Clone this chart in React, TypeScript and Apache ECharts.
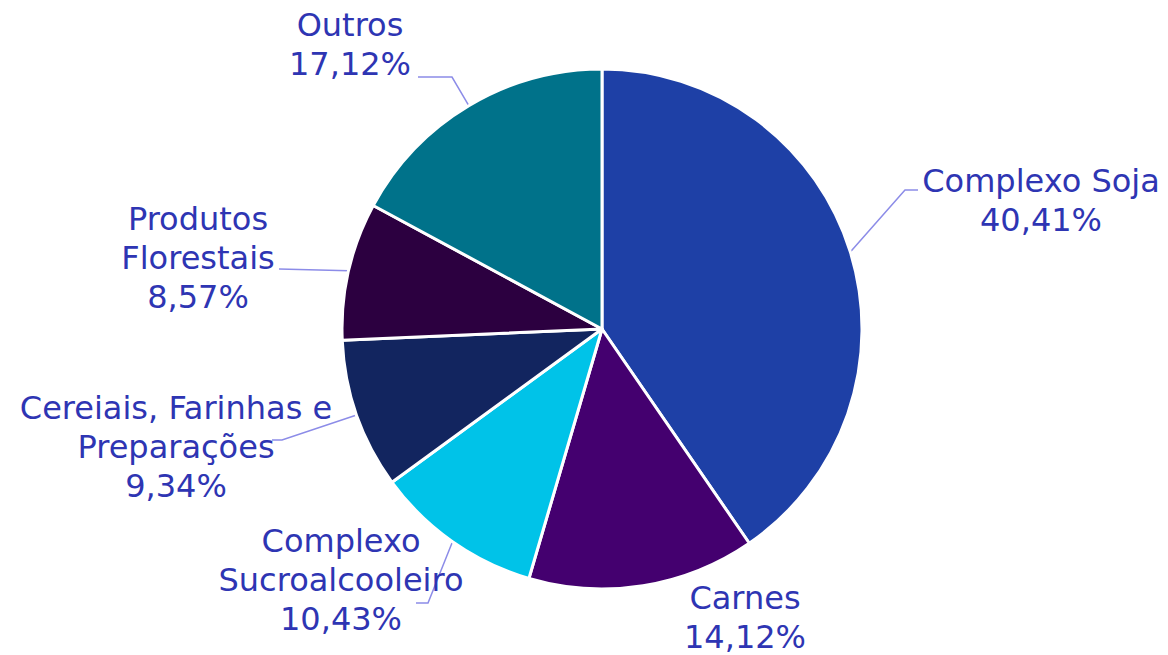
import React, { useEffect, useRef } from "react";
import * as echarts from "echarts";

const categories = [
  "Complexo Soja",
  "Carnes",
  "Complexo\nSucroalcooleiro",
  "Cereiais, Farinhas e\nPreparações",
  "Produtos\nFlorestais",
  "Outros",
];
const shares = [40.41, 14.12, 10.43, 9.34, 8.57, 17.12];
const shareLabels = ["40,41%", "14,12%", "10,43%", "9,34%", "8,57%", "17,12%"];
const colors = ["#1E40A6", "#44006F", "#00C3E8", "#12255F", "#2C0040", "#00728A"];

// label block centres and leader-line elbow/end points (layout only)
const labelCenters: [number, number][] = [
  [1041, 200],
  [745, 617],
  [341, 580],
  [176, 447],
  [198, 258],
  [350, 44],
];
const leaderGuides: ([number, number, number] | null)[] = [
  [905, 190, 918],
  null,
  [428, 603, 416],
  [282, 440, 272],
  [279, 269, 279],
  [452, 77, 418],
];

export default function App() {
  const ref = useRef<HTMLDivElement>(null);
  useEffect(() => {
    if (!ref.current) return;
    const chart = echarts.init(ref.current, null, { renderer: "svg" });
    const data = categories.map((name, i) => ({
      name,
      value: shares[i],
      itemStyle: { color: colors[i] },
      labelLine: { show: leaderGuides[i] !== null },
    }));
    chart.setOption({
      animation: false,
      backgroundColor: "#ffffff",
      series: [
        {
          type: "pie",
          center: [602, 329],
          radius: 260,
          startAngle: 90,
          clockwise: true,
          data,
          itemStyle: { borderColor: "#ffffff", borderWidth: 3 },
          label: {
            show: true,
            position: "outside",
            formatter: (p: any) => `${p.name}\n${shareLabels[p.dataIndex]}`,
            fontFamily: "DejaVu Sans, Verdana, sans-serif",
            fontSize: 32,
            lineHeight: 39,
            color: "#2E35B3",
            align: "center",
            overflow: "none",
            width: 400,
          },
          labelLine: {
            show: true,
            lineStyle: { color: "#8C8CE8", width: 1.5 },
          },
          labelLayout: (params: any) => {
            const i = params.dataIndex;
            const c = labelCenters[i];
            const g = leaderGuides[i];
            const out: any = {
              x: c[0],
              y: c[1],
              align: "center",
              verticalAlign: "middle",
            };
            if (g && params.labelLinePoints && params.labelLinePoints[0]) {
              const s = params.labelLinePoints[0];
              out.labelLinePoints = [
                [s[0], s[1]],
                [g[0], g[1]],
                [g[2], g[1]],
              ];
            }
            return out;
          },
        },
      ],
    });
    return () => chart.dispose();
  }, []);
  return (
    <div
      ref={ref}
      style={{ position: "fixed", left: 0, top: 0, width: 1168, height: 655 }}
    />
  );
}
